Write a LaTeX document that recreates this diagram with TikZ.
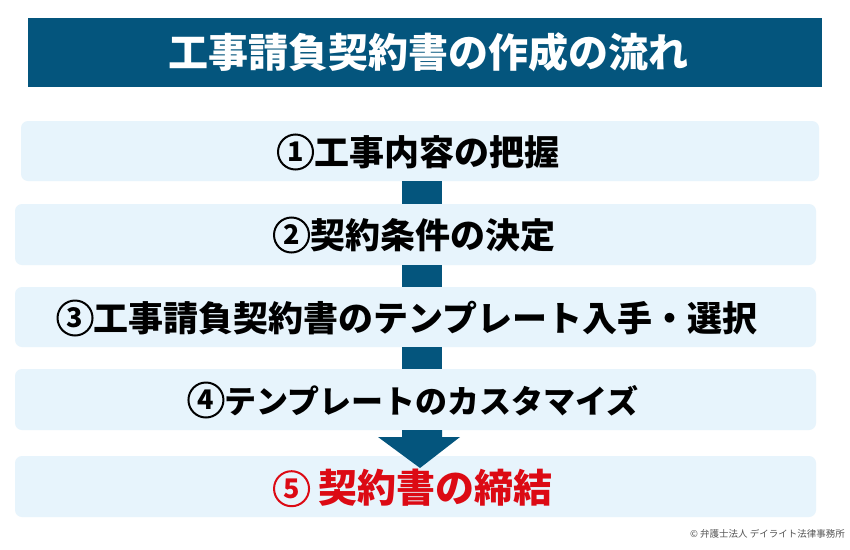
\documentclass[tikz,border=0pt]{standalone}
\usepackage{fontspec}
\newfontfamily\jp{Noto Sans CJK JP}
\definecolor{navy}{HTML}{04557D}
\definecolor{boxbg}{HTML}{E7F4FC}
\definecolor{redtxt}{HTML}{DC0A14}
\definecolor{copyg}{HTML}{555555}
\tikzset{
  stepbox/.style={fill=boxbg, rounded corners=7pt, draw=none},
  steptext/.style={font=\jp\bfseries\fontsize{35}{40}\selectfont, text=black, inner sep=0pt},
  linkbar/.style={fill=navy, draw=none}
}
\newcommand\cnum[3][black]{\tikz[baseline={([yshift=-#3]cn.base)}, x=1cm, y=1cm]\node[circle, draw=#1, line width=2pt, inner sep=0pt, minimum size=35pt, anchor=center, text=#1, font=\jp\fontsize{27}{27}\selectfont] (cn) {#2};}
\begin{document}
\begin{tikzpicture}[x=1pt,y=-1pt]
\useasboundingbox (0,0) rectangle (850,549);
\fill[white] (0,0) rectangle (850,549);
% title
\fill[navy] (28,18) rectangle (822,87);
\node[font=\jp\bfseries\fontsize{40}{46}\selectfont, text=white, inner sep=0pt] (title) at (428,52.5) {工事請負契約書の作成の流れ};
% boxes
\fill[stepbox] (21,121) rectangle (819,181);
\fill[stepbox] (15,204) rectangle (816,265);
\fill[stepbox] (15,287) rectangle (816,347);
\fill[stepbox] (15,369) rectangle (816,430);
\fill[stepbox] (15,456) rectangle (816,517);
% connectors
\fill[linkbar] (402,181) rectangle (442,204);
\fill[linkbar] (402,265) rectangle (442,287);
\fill[linkbar] (402,347) rectangle (442,369);
\fill[linkbar] (402,430) -- (442,430) -- (442,437) -- (460,437) -- (420,468) -- (378,437) -- (402,437) -- cycle;
% texts
\node[steptext] (s1) at (418,152) {\cnum{1}{4pt}工事内容の把握};
\node[steptext] (s2) at (414,235) {\cnum{2}{4pt}契約条件の決定};
\node[steptext] (s3) at (407,318) {\cnum{3}{4pt}工事請負契約書のテンプレート入手・選択};
\node[steptext, font=\jp\bfseries\fontsize{32}{40}\selectfont] (s4) at (413,400) {\cnum{4}{4pt}テンプレートのカスタマイズ};
\node[steptext, text=redtxt, font=\jp\bfseries\fontsize{39}{42}\selectfont] (s5) at (413,488) {\cnum[redtxt]{5}{4pt} 契約書の締結};
\node[font=\jp\fontsize{9.5}{12}\selectfont, text=copyg, inner sep=0pt, anchor=east] (copy) at (845,534) {© 弁護士法人 デイライト法律事務所};
\end{tikzpicture}
\end{document}
